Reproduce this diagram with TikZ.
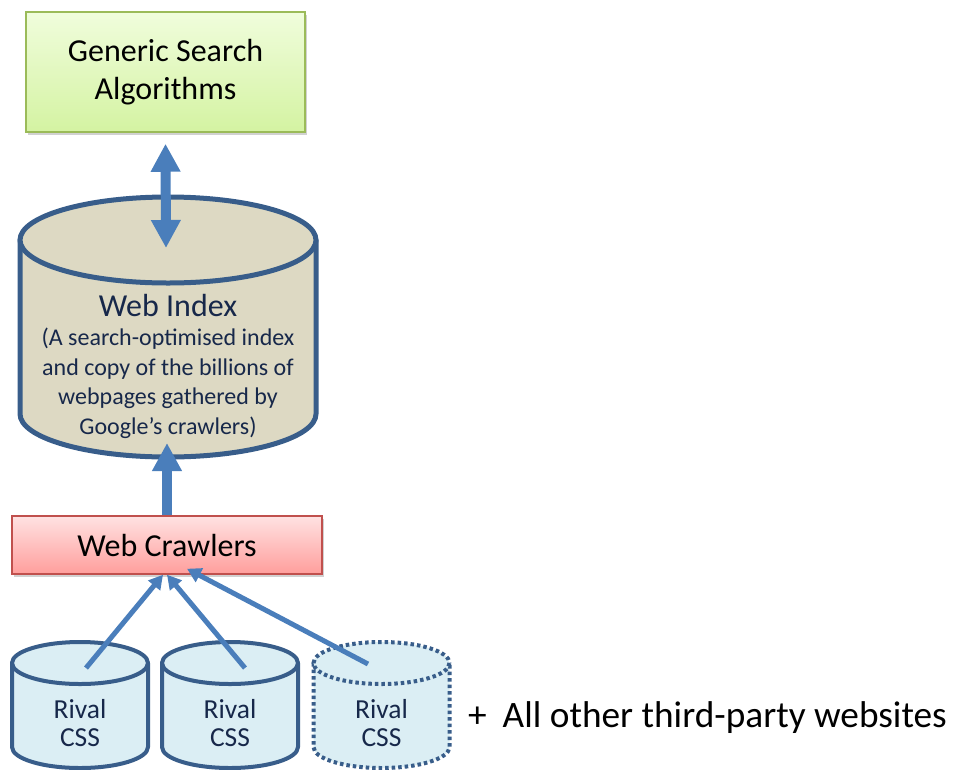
\documentclass[tikz,border=0pt]{standalone}
\usepackage{fontspec}
\setmainfont{Carlito}
\usetikzlibrary{arrows.meta,shadows}

\definecolor{gsaTop}{HTML}{F0FDDC}
\definecolor{gsaBottom}{HTML}{D4F3A2}
\definecolor{gsaLine}{HTML}{9BBB59}
\definecolor{wcTop}{HTML}{FFE2E2}
\definecolor{wcBottom}{HTML}{FF9E9C}
\definecolor{wcLine}{HTML}{C0504D}
\definecolor{idxFill}{HTML}{DDD9C3}
\definecolor{cylLine}{HTML}{385D8A}
\definecolor{cssFill}{HTML}{DBEEF4}
\definecolor{arrowBlue}{HTML}{4A7EBB}
\definecolor{navyText}{HTML}{17284A}

\begin{document}
\begin{tikzpicture}[x=1pt,y=-1pt,
  boxshadow/.style={drop shadow={shadow xshift=2pt,shadow yshift=-3pt,opacity=0.3,fill=black!60}},
  gsabox/.style={draw=gsaLine,line width=1.5pt,top color=gsaTop,bottom color=gsaBottom,
    boxshadow,align=center,font=\fontsize{32}{38}\selectfont},
  wcbox/.style={draw=wcLine,line width=1.5pt,top color=wcTop,bottom color=wcBottom,
    boxshadow,align=center,font=\fontsize{32}{36}\selectfont},
  idxcyl/.style={fill=idxFill,draw=cylLine,line width=5pt,line join=round},
  csscyl/.style={fill=cssFill,draw=cylLine,line width=4pt,line join=round},
  dotcyl/.style={fill=cssFill,draw=cylLine,line width=4pt,dash pattern=on 3.5pt off 3pt},
  csslabel/.style={align=center,text=navyText,font=\fontsize{27.5}{28.5}\selectfont},
  bigarrow/.style={draw=arrowBlue,line width=10pt,{Triangle[width=28pt,length=28pt]}-{Triangle[width=28pt,length=28pt]}},
  uparrow/.style={draw=arrowBlue,line width=10pt,-{Triangle[width=28pt,length=28pt]}},
  feed/.style={draw=arrowBlue,line width=5pt,-{Triangle[width=15pt,length=14pt]}}
]
\useasboundingbox (0,0) rectangle (955,769);

% Generic search algorithms
\node[gsabox,minimum width=279pt,minimum height=120pt] (gsa) at (165.5,72) {Generic Search\\Algorithms};

% Web index cylinder
\path[idxcyl] (20,240) -- (20,414) arc[start angle=180,end angle=0,x radius=148,y radius=43] -- (316,240) -- cycle;
\path[idxcyl] (168,240) ellipse [x radius=148,y radius=43];
\node[align=center,text=navyText,font=\fontsize{24}{29.5}\selectfont] (idx) at (168,366)
  {{\fontsize{32}{31}\selectfont Web Index}\\(A search-optimised index\\and copy of the billions of\\webpages gathered by\\Google’s crawlers)};
\coordinate (idxin) at (166,248);
\coordinate (idxout) at (167,443);

% Web crawlers
\node[wcbox,minimum width=310pt,minimum height=58pt] (wc) at (167,545) {Web Crawlers};

% Rival comparison shopping services
\path[csscyl] (12,663) -- (12,747) arc[start angle=180,end angle=0,x radius=68,y radius=21] -- (148,663) -- cycle;
\path[csscyl] (80,663) ellipse [x radius=68,y radius=21];
\node[csslabel] (cssa) at (80,723) {Rival\\CSS};
\coordinate (cssain) at (86,668);

\path[csscyl] (162,663) -- (162,747) arc[start angle=180,end angle=0,x radius=68,y radius=21] -- (298,663) -- cycle;
\path[csscyl] (230,663) ellipse [x radius=68,y radius=21];
\node[csslabel] (cssb) at (230,723) {Rival\\CSS};
\coordinate (cssbin) at (245,668);

\path[dotcyl] (313.5,663) -- (313.5,747) arc[start angle=180,end angle=0,x radius=68,y radius=21] -- (449.5,663);
\path[dotcyl] (381.5,663) ellipse [x radius=68,y radius=21];
\node[csslabel] (cssc) at (381.5,723) {Rival\\CSS};
\coordinate (csscin) at (368,664);

\node[anchor=base west,inner sep=0pt,font=\fontsize{37.3}{40}\selectfont] (others) at (468,727)
  {+\hspace{16pt}All other third-party websites};

% Data flows
\draw[bigarrow] ([yshift=-11pt]gsa.south) -- (idxin);
\draw[uparrow] (wc.north) -- (idxout);
\draw[feed] (cssain) -- ([xshift=-4pt]wc.south);
\draw[feed] (cssbin) -- ([xshift=0pt]wc.south);
\draw[feed] (csscin) -- ([xshift=20pt,yshift=6pt]wc.south);
\end{tikzpicture}
\end{document}
